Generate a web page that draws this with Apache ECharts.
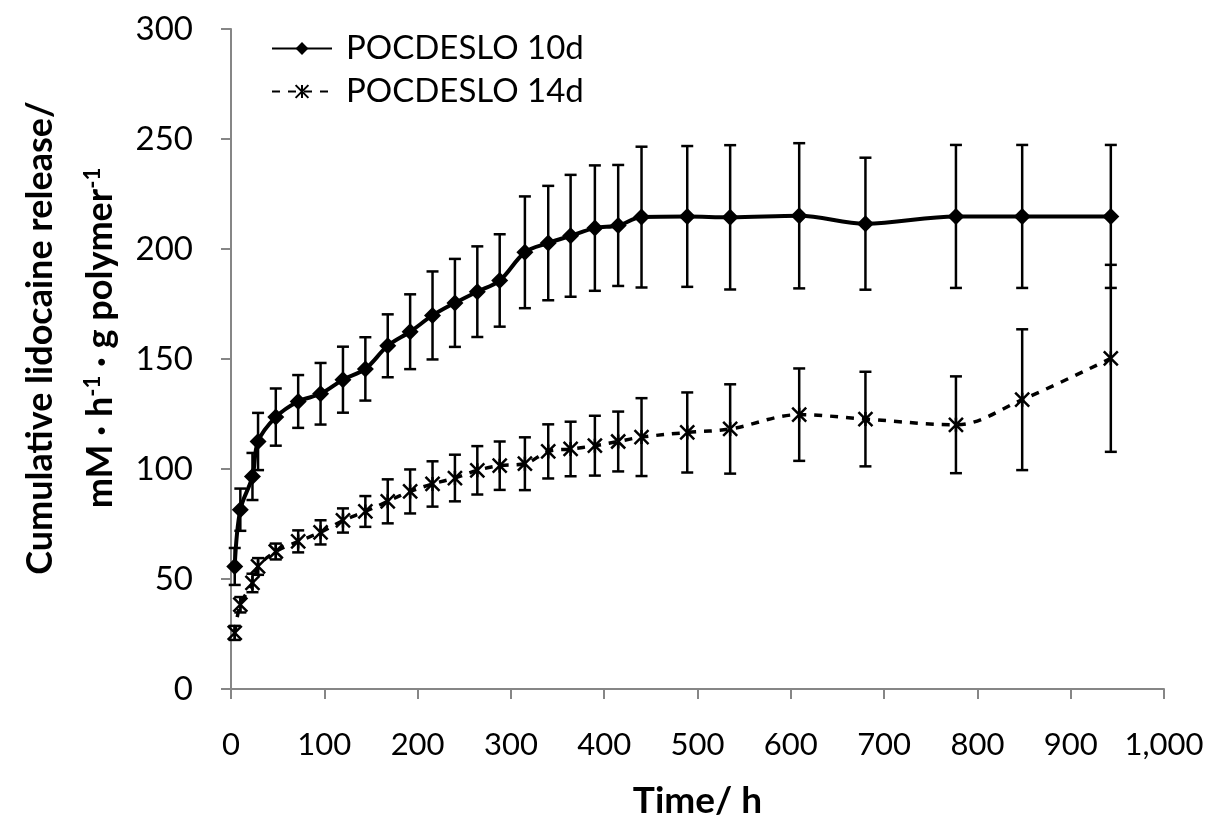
<!DOCTYPE html>
<html>
<head>
<meta charset="utf-8">
<script src="https://cdn.jsdelivr.net/npm/echarts@6/dist/echarts.min.js"></script>
<style>
  html, body { margin: 0; padding: 0; background: #fff; }
  #chart { width: 1210px; height: 817px; }
</style>
</head>
<body>
<div id="chart"></div>
<script>
// sampling times (h)
const times = [4, 10, 23, 29, 48, 72, 96, 120, 144, 168, 192, 216, 240, 264, 288, 315, 340, 364, 390, 415, 440, 489, 535, 609, 680, 777, 848, 943]

// POCDESLO 10d
const mean10d = [55.7, 81.5, 96.6, 112.5, 123.6, 130.7, 134.2, 140.6, 145.5, 156, 162.4, 169.8, 175.5, 180.6, 185.7, 198.5, 202.7, 206, 209.5, 210.7, 214.5, 214.8, 214.4, 215.1, 211.5, 214.8, 214.8, 214.8]
const err10d = [8.4, 9.6, 10.7, 13, 13, 12, 14, 15, 14.4, 14.3, 17, 20, 20, 20.6, 21, 25.4, 26, 27.7, 28.5, 27.5, 32, 32, 32.8, 33, 30, 32.5, 32.5, 32.5]

// POCDESLO 14d
const mean14d = [25.5, 38.3, 48.2, 55.7, 62.5, 67.1, 71.2, 76.6, 80.7, 85.3, 89.8, 93.2, 95.9, 99.4, 101.5, 102.4, 108, 109.1, 110.6, 112.5, 114.5, 116.6, 118.2, 124.7, 122.7, 120.1, 131.5, 150.3]
const err14d = [3.2, 3.5, 4.2, 3.8, 3.6, 5, 5.5, 5.5, 7, 10, 10, 10.3, 10.6, 11, 11, 12, 12.3, 12.4, 13.6, 13.6, 17.7, 18.2, 20.3, 21, 21.5, 22, 32, 42.5]

const FONT = 'Lato, "Open Sans", sans-serif'
const AXIS_GREY = '#868686'
const STAR = 'path://M0,0L10,10M10,0L0,10M5,0L5,10'

const pairs = (ys) => times.map((t, i) => [t, ys[i]])
const bars = (ys, es) => times.map((t, i) => [t, ys[i] - es[i], ys[i] + es[i]])

// vertical error bar with caps
function renderErrorBar(params, api) {
  const lo = api.coord([api.value(0), api.value(1)])
  const hi = api.coord([api.value(0), api.value(2)])
  const half = 6
  const style = { stroke: '#000', lineWidth: 2.5 }
  return {
    type: 'group',
    children: [
      { type: 'line', shape: { x1: hi[0], y1: hi[1], x2: lo[0], y2: lo[1] }, style },
      { type: 'line', shape: { x1: hi[0] - half, y1: hi[1], x2: hi[0] + half, y2: hi[1] }, style },
      { type: 'line', shape: { x1: lo[0] - half, y1: lo[1], x2: lo[0] + half, y2: lo[1] }, style },
    ],
  }
}

const chart = echarts.init(document.getElementById('chart'), null, { renderer: 'canvas' })

chart.setOption({
  animation: false,
  backgroundColor: '#fff',
  grid: { left: 231, right: 46, top: 29, bottom: 128, containLabel: false, outerBoundsMode: 'none' },
  legend: {
    orient: 'vertical',
    left: 266,
    top: 27,
    itemWidth: 60,
    itemHeight: 16,
    itemGap: 10,
    textStyle: { fontFamily: FONT, fontSize: 33, color: '#000', padding: [0, 0, 0, 9] },
    data: ['POCDESLO 10d', 'POCDESLO 14d'],
  },
  // y-axis title, two lines with superscripts
  graphic: [
    {
      type: 'text',
      x: 70,
      y: 338,
      rotation: Math.PI / 2,
      style: {
        text: 'Cumulative lidocaine release/\nmM · h{sup|-1} · g polymer{sup|-1}',
        fontFamily: FONT,
        fontSize: 36,
        fontWeight: 'bold',
        fill: '#000',
        lineHeight: 60,
        align: 'center',
        verticalAlign: 'middle',
        rich: {
          sup: { fontFamily: FONT, fontSize: 22, fontWeight: 'bold', fill: '#000', verticalAlign: 'top', lineHeight: 36, padding: [12, 0, 0, 0] },
        },
      },
    },
  ],
  xAxis: {
    type: 'value',
    min: 0,
    max: 1000,
    interval: 100,
    name: 'Time/ h',
    nameLocation: 'middle',
    nameGap: 94,
    nameTextStyle: { fontFamily: FONT, fontSize: 37, fontWeight: 'bold', color: '#000' },
    axisLine: { lineStyle: { color: AXIS_GREY, width: 2 } },
    axisTick: { length: 10, lineStyle: { color: AXIS_GREY, width: 2 } },
    axisLabel: { margin: 40, fontFamily: FONT, fontSize: 31, color: '#000' },
    splitLine: { show: false },
  },
  yAxis: {
    type: 'value',
    min: 0,
    max: 300,
    interval: 50,
    axisLine: { show: true, lineStyle: { color: AXIS_GREY, width: 2 } },
    axisTick: { show: true, length: 10, lineStyle: { color: AXIS_GREY, width: 2 } },
    axisLabel: { margin: 38, fontFamily: FONT, fontSize: 33, color: '#000' },
    splitLine: { show: false },
  },
  series: [
    {
      name: 'err10d',
      type: 'custom',
      renderItem: renderErrorBar,
      data: bars(mean10d, err10d),
      z: 1,
    },
    {
      name: 'err14d',
      type: 'custom',
      renderItem: renderErrorBar,
      data: bars(mean14d, err14d),
      z: 1,
    },
    {
      name: 'POCDESLO 10d',
      type: 'line',
      data: pairs(mean10d),
      smooth: 0.35,
      symbol: 'diamond',
      symbolSize: 17,
      showAllSymbol: true,
      lineStyle: { color: '#000', width: 4 },
      itemStyle: { color: '#000' },
      z: 3,
    },
    {
      name: 'POCDESLO 14d',
      type: 'line',
      data: pairs(mean14d),
      smooth: 0.35,
      symbol: STAR,
      symbolSize: 14,
      showAllSymbol: true,
      lineStyle: { color: '#000', width: 3.5, type: [8, 8] },
      itemStyle: { color: '#000', borderColor: '#000', borderWidth: 2.5 },
      z: 3,
    },
  ],
})
</script>
</body>
</html>
